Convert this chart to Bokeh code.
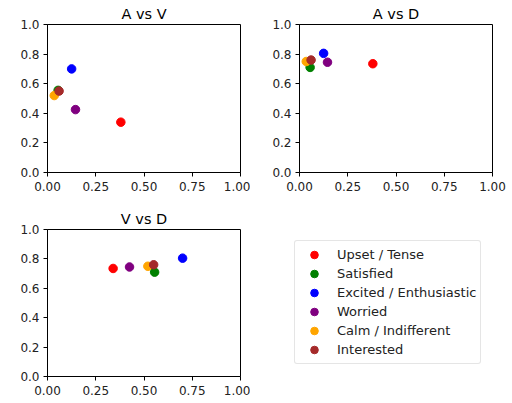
from bokeh.plotting import figure
from bokeh.layouts import row, column
from bokeh.models import Range1d, FixedTicker, PrintfTickFormatter, Legend, LegendItem
from bokeh.embed import file_html
from bokeh.resources import INLINE

labels = ["Upset / Tense", "Satisfied", "Excited / Enthusiastic", "Worried",
          "Calm / Indifferent", "Interested"]
colors = ["red", "green", "blue", "purple", "orange", "brown"]
A = [0.38, 0.055, 0.125, 0.145, 0.035, 0.06]
V = [0.34, 0.555, 0.70, 0.425, 0.52, 0.55]
D = [0.735, 0.71, 0.805, 0.745, 0.75, 0.76]

x_ticks = [0.0, 0.25, 0.5, 0.75, 1.0]
y_ticks = [0.0, 0.2, 0.4, 0.6, 0.8, 1.0]

FONT = "DejaVu Sans"


def make_panel(title, xs, ys, width, height, bl, br, bt, bb):
    p = figure(width=width, height=height, output_backend="svg", toolbar_location=None,
               x_range=Range1d(0, 1), y_range=Range1d(0, 1),
               min_border_left=bl, min_border_right=br, min_border_top=bt, min_border_bottom=bb)
    p.title.text = title
    p.title.align = "center"
    p.title.text_font = FONT
    p.title.text_font_size = "14.5px"
    p.title.text_font_style = "normal"
    p.title.text_color = "black"
    p.title.standoff = 6
    p.title.offset = 0
    p.xgrid.visible = False
    p.ygrid.visible = False
    p.outline_line_color = "black"
    p.outline_line_alpha = 1
    p.outline_line_width = 1
    p.background_fill_color = "white"
    p.border_fill_color = "white"
    p.xaxis.ticker = FixedTicker(ticks=x_ticks)
    p.yaxis.ticker = FixedTicker(ticks=y_ticks)
    p.xaxis.formatter = PrintfTickFormatter(format="%.2f")
    p.yaxis.formatter = PrintfTickFormatter(format="%.1f")
    for ax in (p.xaxis[0], p.yaxis[0]):
        ax.axis_line_color = "black"
        ax.major_tick_line_color = "black"
        ax.major_tick_out = 4
        ax.major_tick_in = 0
        ax.minor_tick_line_color = None
        ax.major_label_text_font = FONT
        ax.major_label_text_font_size = "12px"
        ax.major_label_text_color = "#222222"
    p.xaxis[0].major_label_standoff = 5
    p.yaxis[0].major_label_standoff = 4
    for i in range(len(labels)):
        p.scatter([xs[i]], [ys[i]], size=8.5, color=colors[i], line_color=colors[i])
    return p


p1 = make_panel("A vs V", A, V, 250, 198, 47, 10, 24, 26)
p2 = make_panel("A vs D", A, D, 256, 198, 49, 14, 24, 26)
p3 = make_panel("V vs D", V, D, 250, 203, 47, 10, 31, 25)

# legend panel (borders match p3 so the row keeps the frames aligned)
pl = figure(width=256, height=203, output_backend="svg", toolbar_location=None,
            x_range=Range1d(0, 1), y_range=Range1d(0, 1),
            min_border_left=44, min_border_top=31, min_border_right=0, min_border_bottom=25,
            x_axis_location=None, y_axis_location=None)
pl.xgrid.visible = False
pl.ygrid.visible = False
pl.outline_line_color = None
pl.background_fill_color = "white"
pl.border_fill_color = "white"
items = []
for i in range(len(labels)):
    r = pl.scatter([A[i]], [V[i]], size=8, color=colors[i], line_color=colors[i])
    r.visible = False
    items.append(LegendItem(label=labels[i], renderers=[r]))
leg = Legend(items=items, location=(0, 12), click_policy="none",
             glyph_width=30, glyph_height=19, label_height=19, spacing=0,
             padding=4, margin=0, label_standoff=8,
             label_text_font=FONT, label_text_font_size="13px", label_text_color="#222222",
             border_line_color="#cccccc", border_line_width=1,
             background_fill_color="white", background_fill_alpha=1)
try:
    leg.border_radius = 3
except Exception:
    pass
pl.add_layout(leg, "center")

layout = column(row(p1, p2), row(p3, pl))
open("out.html", "w").write(file_html(layout, INLINE))
